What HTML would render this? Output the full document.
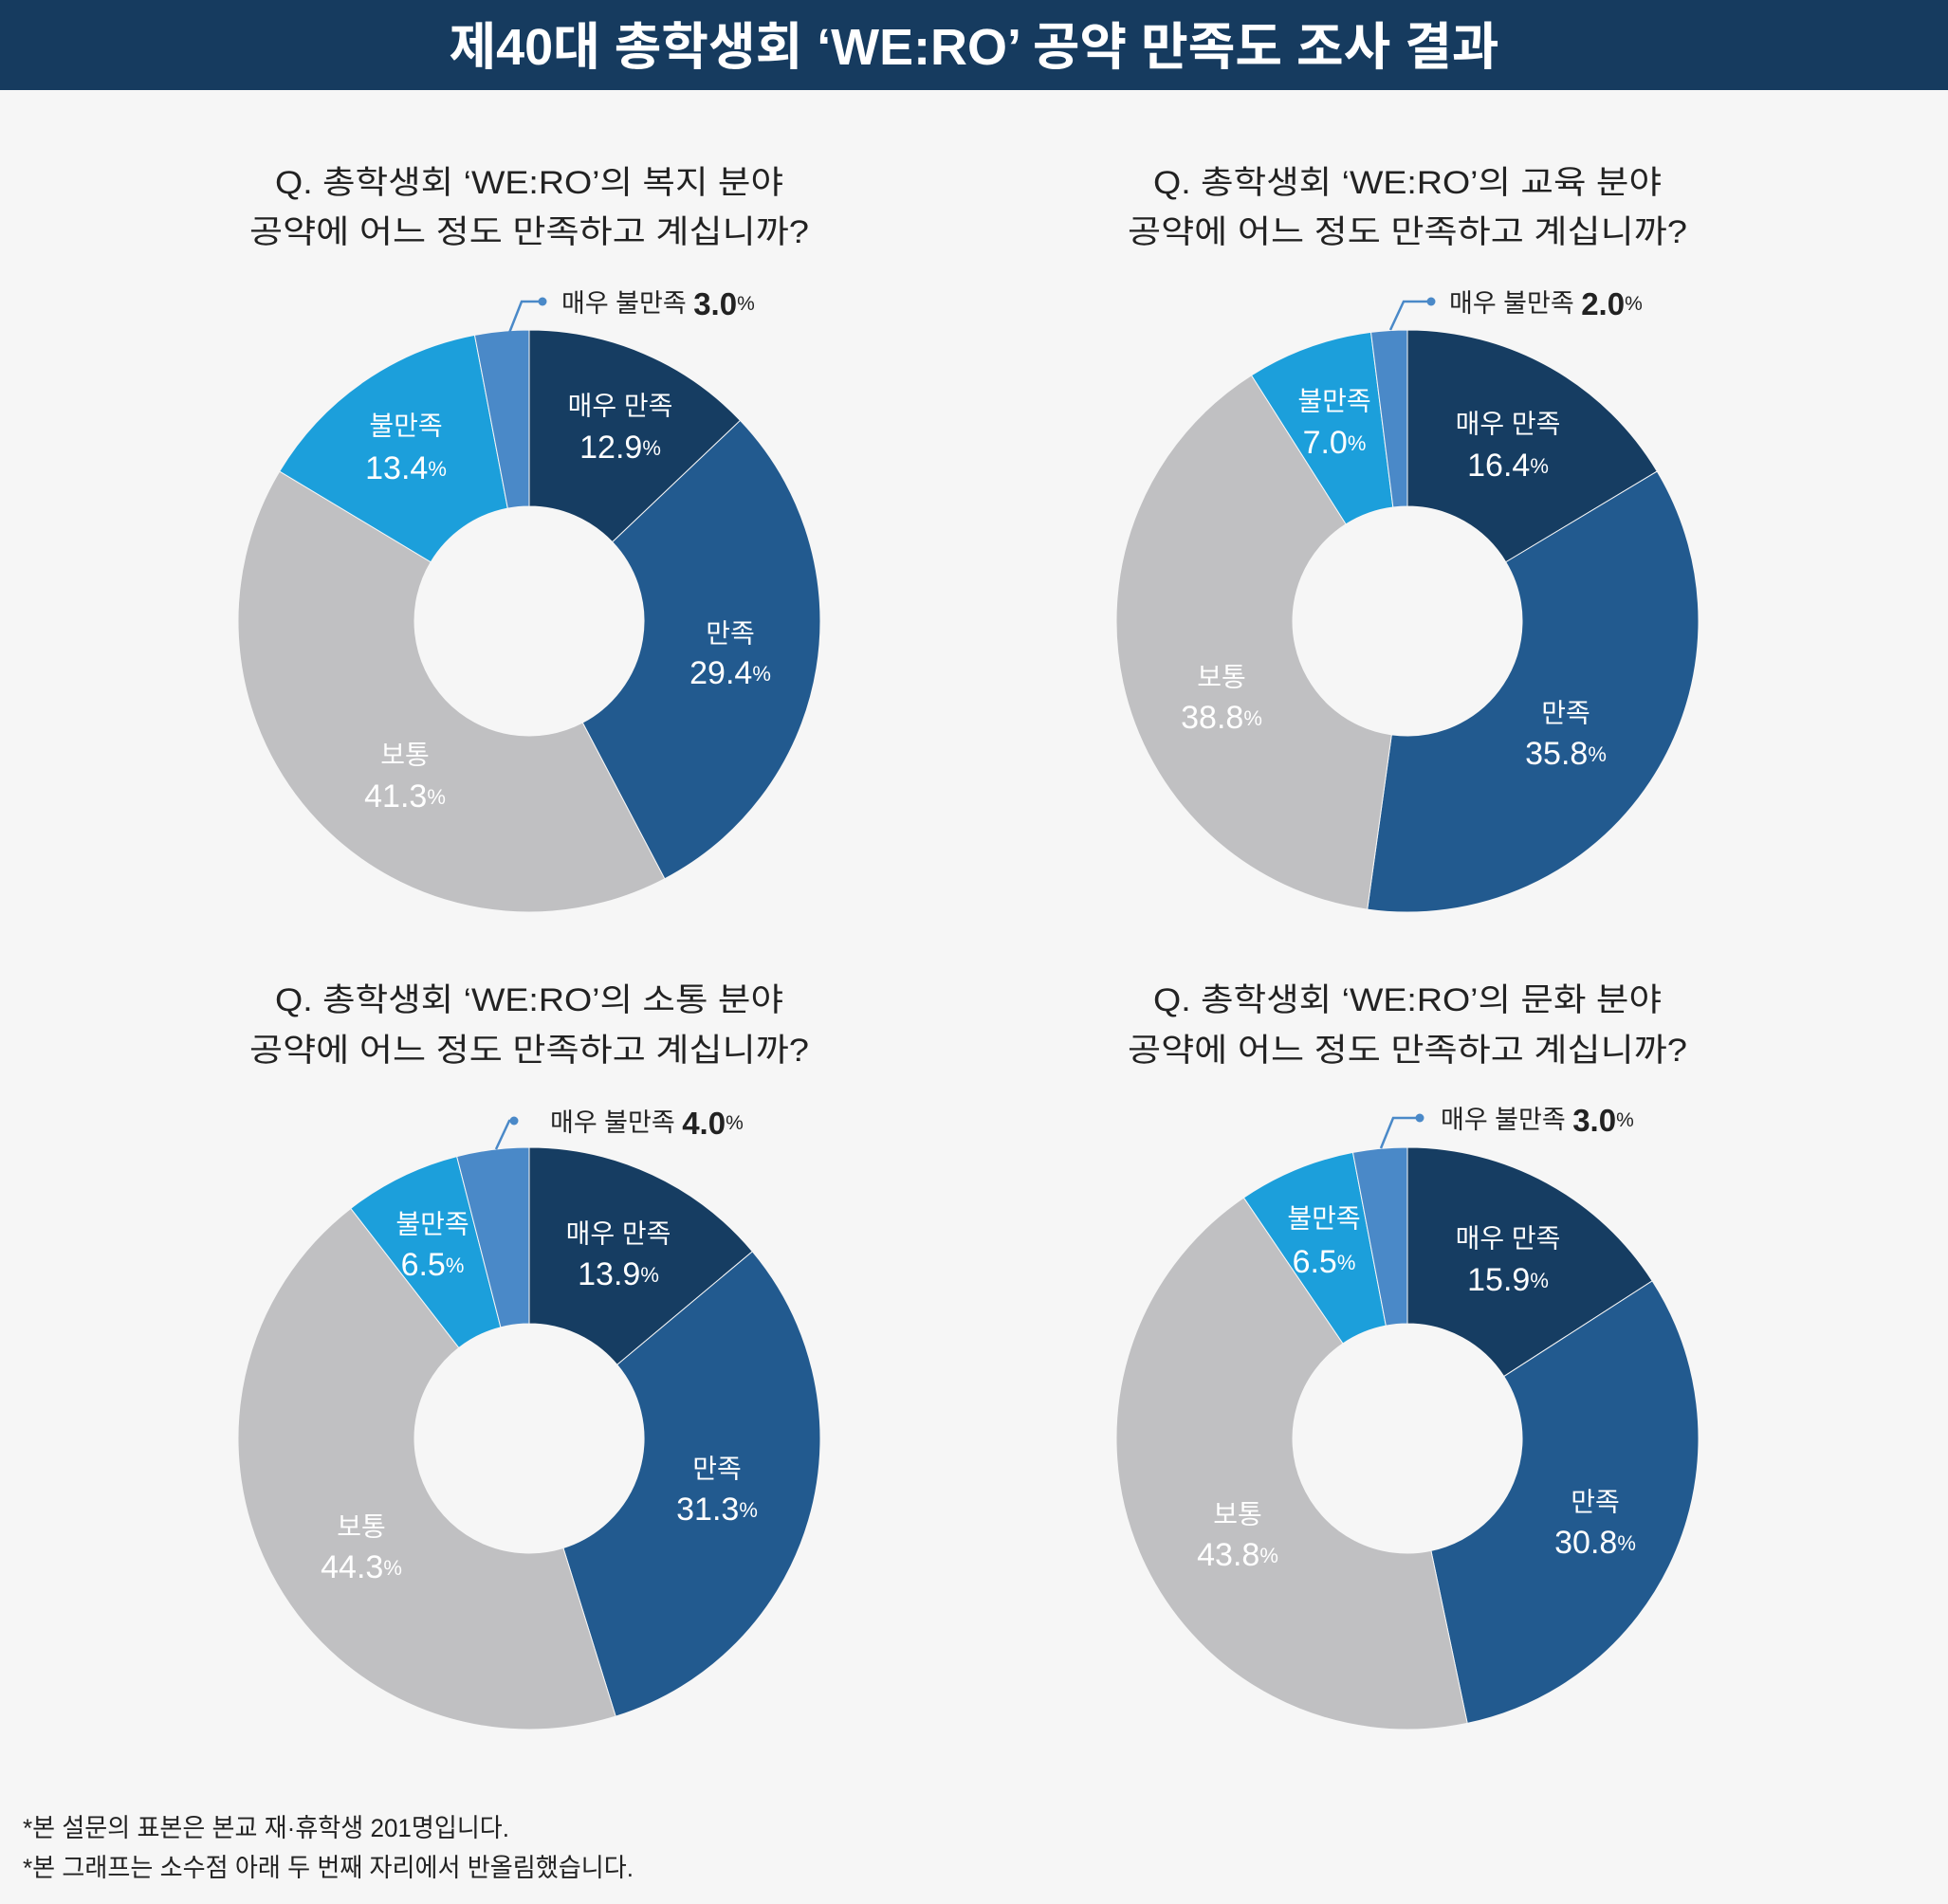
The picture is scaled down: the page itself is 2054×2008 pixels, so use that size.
<!DOCTYPE html>
<html><head><meta charset="utf-8">
<style>
html,body{margin:0;padding:0;background:#f6f6f6;}
svg{display:block;}
text{font-family:"Liberation Sans","Noto Sans CJK KR",sans-serif;}
</style></head>
<body>
<svg id="s" width="2054" height="2008" viewBox="0 0 2054 2008" xmlns="http://www.w3.org/2000/svg">
<rect width="2054" height="2008" fill="#f6f6f6"/>
<rect width="2054" height="95" fill="#163b5f"/>
<text x="1027" y="50" fill="#fff" font-size="54" font-weight="bold" text-anchor="middle" dominant-baseline="central" textLength="1107" lengthAdjust="spacingAndGlyphs">제40대 총학생회 ‘WE:RO’ 공약 만족도 조사 결과</text>
<g id="charts"></g>

<g fill="#222" font-size="34" text-anchor="middle" dominant-baseline="central">
<text x="558" y="193" textLength="536" lengthAdjust="spacingAndGlyphs">Q. 총학생회 ‘WE:RO’의 복지 분야</text>
<text x="558" y="245" textLength="590" lengthAdjust="spacingAndGlyphs">공약에 어느 정도 만족하고 계십니까?</text>
<text x="1484" y="193" textLength="536" lengthAdjust="spacingAndGlyphs">Q. 총학생회 ‘WE:RO’의 교육 분야</text>
<text x="1484" y="245" textLength="590" lengthAdjust="spacingAndGlyphs">공약에 어느 정도 만족하고 계십니까?</text>
<text x="558" y="1055" textLength="536" lengthAdjust="spacingAndGlyphs">Q. 총학생회 ‘WE:RO’의 소통 분야</text>
<text x="558" y="1108" textLength="590" lengthAdjust="spacingAndGlyphs">공약에 어느 정도 만족하고 계십니까?</text>
<text x="1484" y="1055" textLength="536" lengthAdjust="spacingAndGlyphs">Q. 총학생회 ‘WE:RO’의 문화 분야</text>
<text x="1484" y="1108" textLength="590" lengthAdjust="spacingAndGlyphs">공약에 어느 정도 만족하고 계십니까?</text>
</g>

<!-- callouts -->
<g stroke="#4a89c8" stroke-width="2.5" fill="none">
<polyline points="537,351 550,318 572,318"/>
<polyline points="1466,348 1480,318 1509,318"/>
<polyline points="523,1212 537,1182 542,1182"/>
<polyline points="1456,1211 1469,1179 1497,1179"/>
</g>
<g fill="#4a89c8">
<circle cx="572" cy="318" r="4.5"/><circle cx="1509" cy="318" r="4.5"/>
<circle cx="542" cy="1182" r="4.5"/><circle cx="1497" cy="1179" r="4.5"/>
</g>
<g fill="#222" dominant-baseline="central">
<text x="592" y="320" font-size="27">매우 불만족 <tspan font-size="33" font-weight="bold">3.0</tspan><tspan font-size="21">%</tspan></text>
<text x="1528" y="320" font-size="27">매우 불만족 <tspan font-size="33" font-weight="bold">2.0</tspan><tspan font-size="21">%</tspan></text>
<text x="580" y="1184" font-size="27">매우 불만족 <tspan font-size="33" font-weight="bold">4.0</tspan><tspan font-size="21">%</tspan></text>
<text x="1519" y="1181" font-size="27">매우 불만족 <tspan font-size="33" font-weight="bold">3.0</tspan><tspan font-size="21">%</tspan></text>
</g>

<!-- slice labels -->
<g fill="#fff" text-anchor="middle" dominant-baseline="central">
<text x="654" y="428" font-size="28">매우 만족</text><text x="654" y="472" font-size="34">12.9<tspan font-size="22">%</tspan></text>
<text x="770" y="668" font-size="28">만족</text><text x="770" y="710" font-size="34">29.4<tspan font-size="22">%</tspan></text>
<text x="427" y="796" font-size="28">보통</text><text x="427" y="840" font-size="34">41.3<tspan font-size="22">%</tspan></text>
<text x="428" y="449" font-size="28">불만족</text><text x="428" y="494" font-size="34">13.4<tspan font-size="22">%</tspan></text>

<text x="1590" y="447" font-size="28">매우 만족</text><text x="1590" y="491" font-size="34">16.4<tspan font-size="22">%</tspan></text>
<text x="1651" y="752" font-size="28">만족</text><text x="1651" y="795" font-size="34">35.8<tspan font-size="22">%</tspan></text>
<text x="1288" y="714" font-size="28">보통</text><text x="1288" y="757" font-size="34">38.8<tspan font-size="22">%</tspan></text>
<text x="1407" y="423" font-size="28">불만족</text><text x="1407" y="467" font-size="34">7.0<tspan font-size="22">%</tspan></text>

<text x="652" y="1301" font-size="28">매우 만족</text><text x="652" y="1344" font-size="34">13.9<tspan font-size="22">%</tspan></text>
<text x="756" y="1549" font-size="28">만족</text><text x="756" y="1592" font-size="34">31.3<tspan font-size="22">%</tspan></text>
<text x="381" y="1610" font-size="28">보통</text><text x="381" y="1653" font-size="34">44.3<tspan font-size="22">%</tspan></text>
<text x="456" y="1291" font-size="28">불만족</text><text x="456" y="1334" font-size="34">6.5<tspan font-size="22">%</tspan></text>

<text x="1590" y="1306" font-size="28">매우 만족</text><text x="1590" y="1350" font-size="34">15.9<tspan font-size="22">%</tspan></text>
<text x="1682" y="1584" font-size="28">만족</text><text x="1682" y="1627" font-size="34">30.8<tspan font-size="22">%</tspan></text>
<text x="1305" y="1597" font-size="28">보통</text><text x="1305" y="1640" font-size="34">43.8<tspan font-size="22">%</tspan></text>
<text x="1396" y="1285" font-size="28">불만족</text><text x="1396" y="1331" font-size="34">6.5<tspan font-size="22">%</tspan></text>
</g>

<g fill="#222" font-size="27" dominant-baseline="central">
<text x="24" y="1928" textLength="513" lengthAdjust="spacingAndGlyphs">*본 설문의 표본은 본교 재·휴학생 201명입니다.</text>
<text x="24" y="1970" textLength="644" lengthAdjust="spacingAndGlyphs">*본 그래프는 소수점 아래 두 번째 자리에서 반올림했습니다.</text>
</g>
</svg>
<script>
(function(){
var cols=["#163d62","#225a8f","#c0c0c2","#1c9fdb","#4a89c8"];
var data=[[558,655,[12.9,29.4,41.3,13.4,3.0]],[1484,655,[16.4,35.8,38.8,7.0,2.0]],
[558,1517,[13.9,31.3,44.3,6.5,4.0]],[1484,1517,[15.9,30.8,43.8,6.5,3.0]]];
var R=307,r=121,g=document.getElementById("charts"),h="";
function p(cx,cy,rad,a){return [cx+rad*Math.sin(a),cy-rad*Math.cos(a)];}
data.forEach(function(d){
 var tot=d[2].reduce(function(a,b){return a+b},0),a0=0;
 d[2].forEach(function(v,i){
  var a1=a0+v/tot*2*Math.PI,lg=(a1-a0)>Math.PI?1:0;
  var A=p(d[0],d[1],R,a0),B=p(d[0],d[1],R,a1),C=p(d[0],d[1],r,a1),D=p(d[0],d[1],r,a0);
  h+='<path d="M'+A+' A'+R+','+R+' 0 '+lg+' 1 '+B+' L'+C+' A'+r+','+r+' 0 '+lg+' 0 '+D+'Z" fill="'+cols[i]+'" stroke="#f6f6f6" stroke-width="1"/>';
  a0=a1;});
});
g.innerHTML=h;
})();
</script>
</body></html>
